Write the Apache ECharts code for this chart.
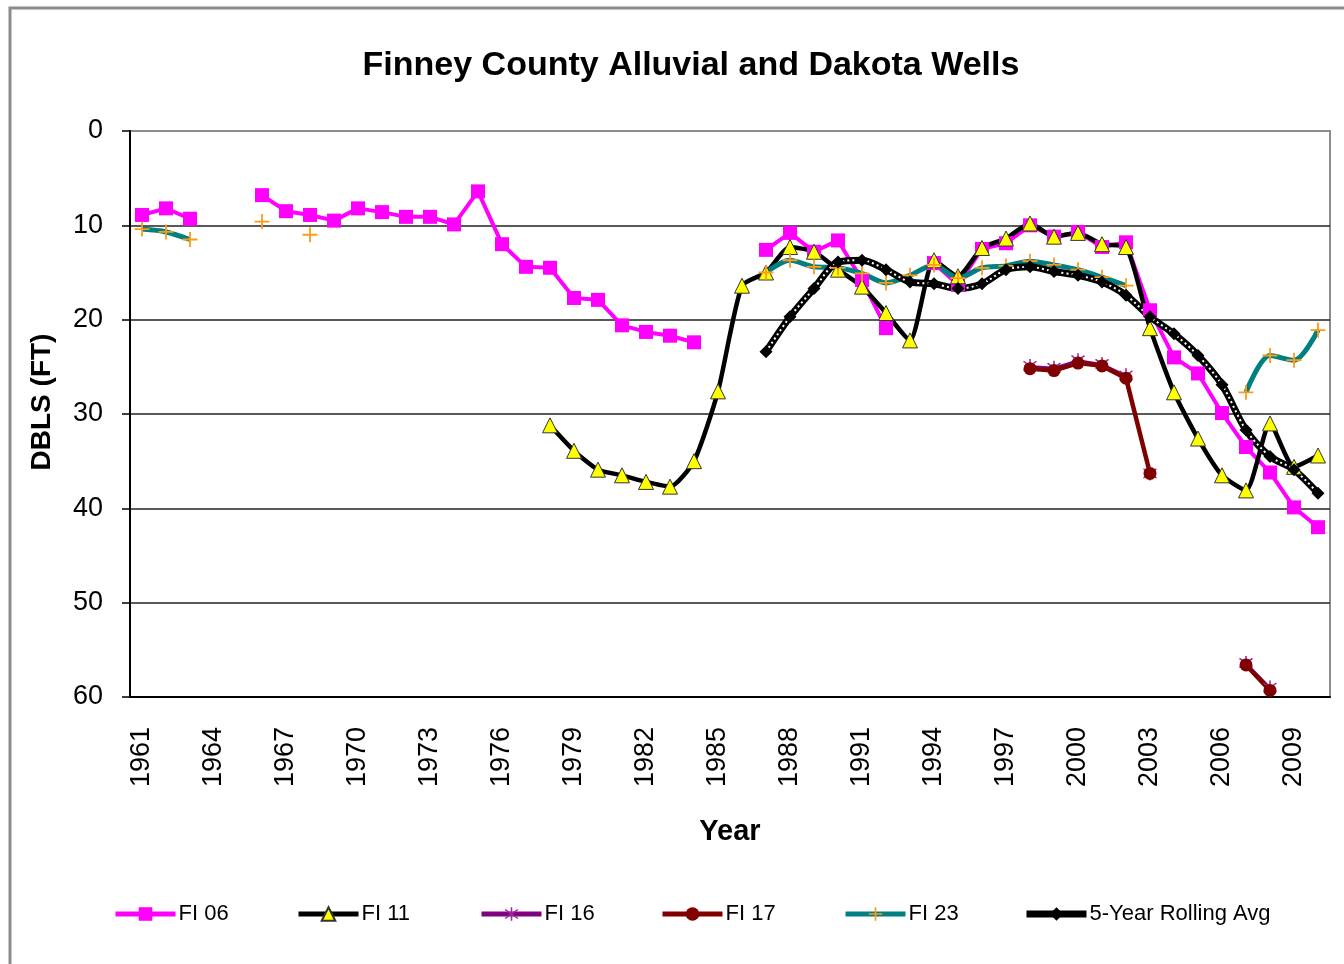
<!DOCTYPE html>
<html>
<head>
<meta charset="utf-8">
<title>Finney County Alluvial and Dakota Wells</title>
<script src="https://cdn.jsdelivr.net/npm/echarts@6/dist/echarts.min.js"></script>
<style>
    html, body { margin: 0; padding: 0; background: #fff; }
    #chart { width: 1344px; height: 964px; }
</style>
</head>
<body>
<div id="chart"></div>
<script>
// years on the x axis
var years = [];
for (var y = 1961; y <= 2010; y++) years.push(String(y));

// depth below land surface (ft), null = no reading
var fi06 = [8.9, 8.2, 9.3, null, null, 6.8, 8.5, 8.9, 9.5, 8.2,
    8.6, 9.1, 9.1, 9.9, 6.4, 12.0, 14.4, 14.5, 17.7, 17.9,
    20.6, 21.3, 21.7, 22.4, null, null, 12.6, 10.8, 12.8, 11.6,
    15.8, 20.9, null, 14.0, 16.3, 12.5, 11.9, 10.0, 11.2, 10.7,
    12.3, 11.8, 19.0, 24.0, 25.7, 29.9, 33.5, 36.2, 39.9, 42.0];
var fi11 = [null, null, null, null, null, null, null, null, null, null,
    null, null, null, null, null, null, null, 31.2, 33.9, 35.9,
    36.5, 37.2, 37.7, 35.0, 27.6, 16.4, 15.0, 12.3, 12.8, 14.7,
    16.5, 19.3, 22.2, 13.7, 15.4, 12.4, 11.4, 9.8, 11.2, 10.8,
    12.0, 12.3, 20.9, 27.7, 32.6, 36.5, 38.1, 31.0, 35.6, 34.4];
var fi16 = [null, null, null, null, null, null, null, null, null, null,
    null, null, null, null, null, null, null, null, null, null,
    null, null, null, null, null, null, null, null, null, null,
    null, null, null, null, null, null, null, 24.9, 25.1, 24.3,
    24.7, 25.9, 36.3, null, null, null, 56.4, 59.0, null, null];
var fi17 = [null, null, null, null, null, null, null, null, null, null,
    null, null, null, null, null, null, null, null, null, null,
    null, null, null, null, null, null, null, null, null, null,
    null, null, null, null, null, null, null, 25.2, 25.4, 24.6,
    24.9, 26.2, 36.3, null, null, null, 56.6, 59.3, null, null];
var fi23 = [10.4, 10.7, 11.5, null, null, 9.6, null, 11.0, null, null,
    null, null, null, null, null, null, null, null, null, null,
    null, null, null, null, null, null, 15.0, 13.7, 14.4, 14.5,
    15.1, 16.1, 15.3, 14.2, 15.6, 14.5, 14.3, 13.8, 14.2, 14.7,
    15.5, 16.4, null, null, null, null, 27.7, 23.8, 24.3, 21.1];
var rollAvg = [null, null, null, null, null, null, null, null, null, null,
    null, null, null, null, null, null, null, null, null, null,
    null, null, null, null, null, null, 23.4, 19.7, 16.7, 13.9,
    13.7, 14.7, 16.0, 16.2, 16.7, 16.2, 14.7, 14.4, 14.9, 15.3,
    16.0, 17.4, 19.7, 21.5, 23.8, 26.9, 31.7, 34.5, 35.9, 38.4];

var depthTicks = [0, 10, 20, 30, 40, 50, 60];
var legendNames = ['FI 06', 'FI 11', 'FI 16', 'FI 17', 'FI 23', '5-Year Rolling Avg'];
var legendLeft = [113, 296, 479, 660, 843, 1023];

var FONT = "'Liberation Sans', Arial, sans-serif";
var plusPath = 'path://M4.4,0h1.2v10h-1.2zM0,4.4h10v1.2h-10z';
var starPath = 'path://M4.5,0h1v10h-1zM0.6,2.1L1.2,1.3L9.4,7.9L8.8,8.7zM0.6,7.9L8.8,1.3L9.4,2.1L1.2,8.7z';

var chart = echarts.init(document.getElementById('chart'));

// one legend block per series so the items sit at fixed spots
var legends = legendNames.map(function (name, i) {
    return {
        data: [name],
        left: legendLeft[i],
        top: 903,
        padding: 0,
        itemWidth: 60,
        itemHeight: 17,
        lineStyle: { width: name == '5-Year Rolling Avg' ? 7 : 5 },
        textStyle: { fontFamily: FONT, fontSize: 22, color: '#000', padding: [0, 0, 0, -2] }
    };
});

var gridColors = depthTicks.map(function (v) { return v == 0 ? '#8c8c8c' : '#222'; });

var option = {
    backgroundColor: '#fff',
    animation: false,
    textStyle: { fontFamily: FONT },
    title: {
        text: 'Finney County Alluvial and Dakota Wells',
        left: 686,
        textAlign: 'center',
        top: 44,
        textStyle: { fontFamily: FONT, fontSize: 34, fontWeight: 'bold', color: '#000' }
    },
    graphic: [{
        type: 'rect',
        shape: { x: 10, y: 8, width: 1400, height: 1000 },
        style: { fill: 'none', stroke: '#8c8c8c', lineWidth: 3 },
        silent: true
    }],
    legend: legends,
    grid: {
        left: 130, top: 131, right: 14, bottom: 267,
        show: true, borderColor: '#8c8c8c', borderWidth: 2
    },
    xAxis: {
        type: 'category',
        data: years,
        boundaryGap: true,
        name: 'Year',
        nameLocation: 'middle',
        nameGap: 120,
        nameTextStyle: { fontFamily: FONT, fontSize: 29, fontWeight: 'bold', color: '#000' },
        axisLine: { onZero: false, lineStyle: { color: '#000', width: 2 } },
        axisTick: { interval: 0, length: 8, lineStyle: { color: '#000', width: 1.5 } },
        axisLabel: { interval: 2, rotate: 90, margin: 30, fontSize: 27, color: '#000', fontFamily: FONT },
        splitLine: { show: false }
    },
    yAxis: {
        type: 'value',
        inverse: true,
        min: depthTicks[0],
        max: depthTicks[depthTicks.length - 1],
        interval: 10,
        name: 'DBLS (FT)',
        nameLocation: 'middle',
        nameGap: 74,
        nameRotate: 90,
        nameTextStyle: { fontFamily: FONT, fontSize: 28, fontWeight: 'bold', color: '#000', padding: [0, 0, 0, 24] },
        axisLine: { show: true, lineStyle: { color: '#000', width: 2 } },
        axisTick: { show: true, length: 8, lineStyle: { color: '#000', width: 1.5 } },
        axisLabel: { margin: 27, fontSize: 27, color: '#000', fontFamily: FONT },
        splitLine: { lineStyle: { color: gridColors, width: 1.5 } }
    },
    series: [{
        name: 'FI 06',
        type: 'line',
        data: fi06,
        showAllSymbol: true,
        symbol: 'rect',
        symbolSize: 14,
        lineStyle: { color: '#ff00ff', width: 4 },
        itemStyle: { color: '#ff00ff' }
    }, {
        name: 'FI 11',
        type: 'line',
        data: fi11,
        smooth: 0.2,
        showAllSymbol: true,
        symbol: 'triangle',
        symbolSize: 15,
        lineStyle: { color: '#000', width: 4.5 },
        itemStyle: { color: '#ffff00', borderColor: '#333', borderWidth: 1 }
    }, {
        name: 'FI 16',
        type: 'line',
        data: fi16,
        showAllSymbol: true,
        symbol: starPath,
        symbolSize: 14,
        lineStyle: { color: '#800080', width: 2 },
        itemStyle: { color: '#9a2aa0' }
    }, {
        name: 'FI 17',
        type: 'line',
        data: fi17,
        showAllSymbol: true,
        symbol: 'circle',
        symbolSize: 13,
        lineStyle: { color: '#800000', width: 4.5 },
        itemStyle: { color: '#800000' }
    }, {
        name: 'FI 23',
        type: 'line',
        data: fi23,
        smooth: 0.3,
        showAllSymbol: true,
        symbol: plusPath,
        symbolSize: 15,
        lineStyle: { color: '#008080', width: 5 },
        itemStyle: { color: '#ff9a1a' }
    }, {
        name: '5-Year Rolling Avg',
        type: 'line',
        data: rollAvg,
        smooth: 0.3,
        showAllSymbol: true,
        symbol: 'diamond',
        symbolSize: 13,
        lineStyle: { color: '#000', width: 7 },
        itemStyle: { color: '#000' }
    }, {
        // white dots on top of the rolling average line
        name: 'rolling-dots',
        type: 'line',
        data: rollAvg,
        smooth: 0.3,
        symbol: 'none',
        silent: true,
        lineStyle: { color: '#fff', width: 2, type: [2, 3] },
        z: 3
    }]
};

chart.setOption(option);
</script>
</body>
</html>
